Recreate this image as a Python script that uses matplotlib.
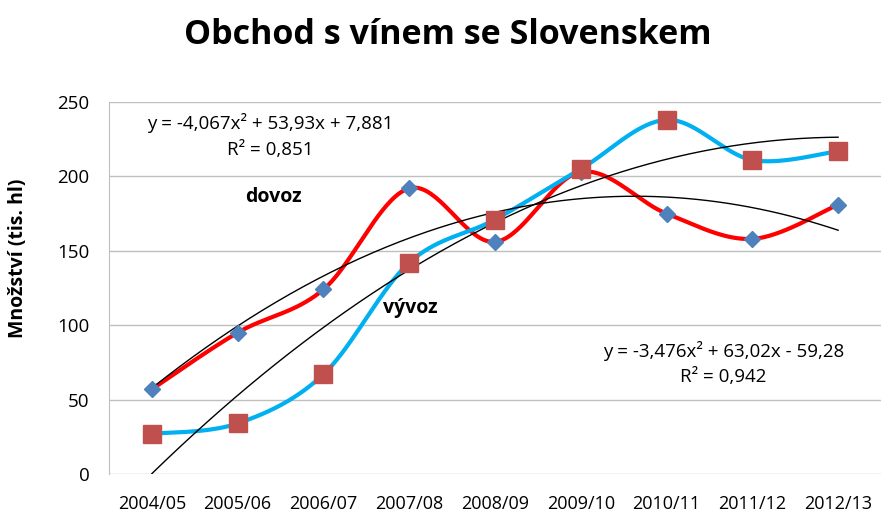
import numpy as np
import matplotlib.pyplot as plt

plt.rcParams['font.family'] = ['Open Sans', 'DejaVu Sans']

years = ['2004/05', '2005/06', '2006/07', '2007/08', '2008/09',
         '2009/10', '2010/11', '2011/12', '2012/13']
dovoz = [57, 95, 124, 192, 156, 203, 175, 158, 181]
vyvoz = [27, 34, 67, 142, 171, 205, 238, 211, 217]

# trend coefficients as printed in the chart (x = 1..9)
trend_dovoz = [-4.067, 53.93, 7.881]
trend_vyvoz = [-3.476, 63.02, -59.28]


def smooth(xs, ys, n=40):
    # Catmull-Rom style smoothing like Excel's "smoothed line"
    xs = np.asarray(xs, float)
    ys = np.asarray(ys, float)
    px = np.concatenate([[xs[0]], xs, [xs[-1]]])
    py = np.concatenate([[ys[0]], ys, [ys[-1]]])
    outx, outy = [], []
    t = np.linspace(0, 1, n)
    for i in range(1, len(px) - 2):
        p0, p1, p2, p3 = py[i - 1], py[i], py[i + 1], py[i + 2]
        q0, q1, q2, q3 = px[i - 1], px[i], px[i + 1], px[i + 2]
        # bezier control points
        b1y = p1 + (p2 - p0) / 6
        b2y = p2 - (p3 - p1) / 6
        b1x = q1 + (q2 - q0) / 6
        b2x = q2 - (q3 - q1) / 6
        by = (1 - t)**3 * p1 + 3 * (1 - t)**2 * t * b1y + 3 * (1 - t) * t**2 * b2y + t**3 * p2
        bx = (1 - t)**3 * q1 + 3 * (1 - t)**2 * t * b1x + 3 * (1 - t) * t**2 * b2x + t**3 * q2
        outx.extend(bx)
        outy.extend(by)
    return np.array(outx), np.array(outy)


x = np.arange(len(years))

fig = plt.figure(figsize=(8.81, 5.2), dpi=100)
ax = fig.add_axes([109 / 881, 1 - 474 / 520, (881 - 109) / 881, (474 - 102) / 520])

# trend lines
xt = np.linspace(1, 9, 200)
ax.plot(xt - 1, np.polyval(trend_dovoz, xt), color='black', lw=1, zorder=4)
ax.plot(xt - 1, np.polyval(trend_vyvoz, xt), color='black', lw=1, zorder=4)

sx, sy = smooth(x, dovoz)
ax.plot(sx, sy, color='#FF0000', lw=3, zorder=3)
sx, sy = smooth(x, vyvoz)
ax.plot(sx, sy, color='#00B0F0', lw=3, zorder=3)

ax.plot(x, dovoz, linestyle='none', marker='D', ms=8.5, color='#4F81BD', zorder=5)
ax.plot(x, vyvoz, linestyle='none', marker='s', ms=12.5, color='#C0504D', zorder=5)

ax.set_xlim(-0.5, 8.5)
ax.set_ylim(0, 250)
ax.set_yticks(range(0, 251, 50))
ax.set_xticks(x)
ax.set_xticklabels(years)
ax.grid(axis='y', color='#BFBFBF', lw=1)
ax.set_axisbelow(True)
for s in ['top', 'right', 'bottom']:
    ax.spines[s].set_visible(False)
ax.spines['left'].set_color('#BFBFBF')
ax.tick_params(length=0, labelsize=13.5)
ax.tick_params(axis='x', pad=15, labelsize=13)
ax.tick_params(axis='y', pad=14)

ax.set_ylabel('Množství (tis. hl)', fontsize=14, fontweight='bold')
ax.yaxis.set_label_coords(-0.105, 0.58)
fig.suptitle('Obchod s vínem se Slovenskem', fontsize=24.5, fontweight='bold',
             x=0.508, y=0.965)

ax.text(1.38, 236, 'y = -4,067x² + 53,93x + 7,881', ha='center', va='center', fontsize=13.5)
ax.text(1.38, 218, 'R² = 0,851', ha='center', va='center', fontsize=13.5)
ax.text(6.66, 82.6, 'y = -3,476x² + 63,02x - 59,28', ha='center', va='center', fontsize=13.5)
ax.text(6.66, 65, 'R² = 0,942', ha='center', va='center', fontsize=13.5)
ax.text(1.42, 186, 'dovoz', ha='center', va='center', fontsize=14, fontweight='bold')
ax.text(3.01, 111.5, 'vývoz', ha='center', va='center', fontsize=14, fontweight='bold')

fig.savefig('out.png', dpi=100)
